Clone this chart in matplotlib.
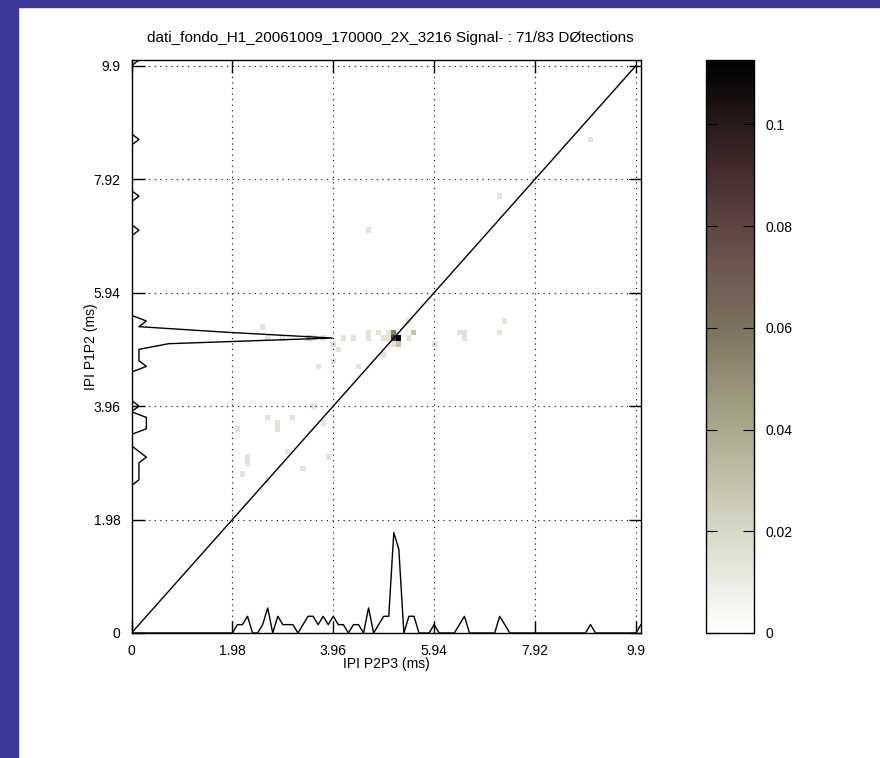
import numpy as np
import matplotlib
matplotlib.use("Agg")
import matplotlib.pyplot as plt
from matplotlib.colors import LinearSegmentedColormap
from matplotlib.patches import Rectangle

plt.rcParams['font.family'] = ['Liberation Sans', 'DejaVu Sans']

# --- data -------------------------------------------------------------
bin_width = 0.099          # ms per bin
n_detections = 71
hist_scale = 0.146         # plot units per detection in the marginal curves

# 2D histogram cells: (P2P3 bin, P1P2 bin, count)
cell_x = [21, 22, 23, 23, 26, 27, 27, 27, 29, 29, 30, 31, 32, 34, 35, 36, 36, 37, 38, 38,
          39, 40, 40, 41, 42, 44, 45, 47, 47, 47, 49, 50, 50, 51, 51, 52, 52, 52, 53, 53,
          55, 55, 56, 60, 65, 66, 66, 73, 73, 74, 91, 101]
cell_y = [36, 28, 31, 30, 54, 38, 27, 52, 37, 36, 52, 32, 38, 29, 52, 40, 52, 47, 37, 52,
          31, 51, 48, 50, 52, 52, 47, 53, 52, 71, 53, 52, 49, 52, 53, 53, 51, 52, 52, 51,
          55, 52, 53, 51, 53, 52, 53, 77, 53, 55, 87, 101]
cell_n = [1, 1, 1, 1, 1, 1, 1, 1, 1, 1, 1, 1, 1, 1, 2, 1, 1, 1, 1, 1,
          1, 1, 1, 1, 1, 1, 1, 1, 1, 1, 1, 1, 1, 1, 1, 4, 1, 6, 8, 2,
          1, 1, 2, 1, 1, 1, 1, 1, 1, 1, 1, 1]

# marginal counts along P2P3 (bottom curve)
px_bins = [21, 22, 23, 26, 27, 29, 30, 31, 32, 34, 35, 36, 37, 38, 39, 40, 41, 42, 44, 45,
           47, 49, 50, 51, 52, 53, 55, 56, 60, 65, 66, 73, 74, 91, 101]
px_counts = [1, 1, 2, 1, 3, 2, 1, 1, 1, 1, 2, 2, 1, 2, 1, 2, 1, 1, 1, 1,
             3, 1, 2, 2, 12, 10, 2, 2, 1, 1, 2, 2, 1, 1, 1]

# marginal counts along P1P2 (left curve)
py_bins = [27, 28, 29, 30, 31, 32, 36, 37, 38, 40, 47, 48, 49, 50, 51, 52, 53, 54, 55,
           71, 77, 87, 101]
py_counts = [1, 1, 1, 1, 2, 1, 2, 2, 2, 1, 2, 1, 1, 1, 5, 27, 13, 1, 2,
             1, 1, 1, 1]

tick_vals = [0, 1.98, 3.96, 5.94, 7.92, 9.9]
tick_labels = ['0', '1.98', '3.96', '5.94', '7.92', '9.9']
cbar_ticks = [0, 0.02, 0.04, 0.06, 0.08, 0.1]
cbar_labels = ['0', '0.02', '0.04', '0.06', '0.08', '0.1']

title = 'dati_fondo_H1_20061009_170000_2X_3216 Signal- : 71/83 D\u00d8tections'

# --- build arrays -------------------------------------------------------
nb = 102
grid = np.zeros((nb, nb))
for ix, iy, n in zip(cell_x, cell_y, cell_n):
    grid[iy, ix] += n / n_detections
grid = np.ma.masked_equal(grid, 0)
edges = (np.arange(nb + 1) - 0.5) * bin_width

hx = np.zeros(nb)
hx[px_bins] = px_counts
hy = np.zeros(nb)
hy[py_bins] = py_counts
centers = np.arange(nb) * bin_width

cmap = LinearSegmentedColormap.from_list('ipi', [
    (0.0, '#ffffff'), (0.177, '#d8d8c8'), (0.354, '#aaaa8c'), (0.53, '#7d735f'),
    (0.71, '#5f4644'), (0.885, '#2a1a1a'), (1.0, '#000000')])
vmax = 8 / n_detections

# --- figure -------------------------------------------------------------
fig = plt.figure(figsize=(8.8, 7.58), dpi=100)
fig.patches.append(Rectangle((0, 0), 18 / 880, 1, transform=fig.transFigure,
                             color='#3b3896', zorder=-10))
fig.patches.append(Rectangle((0, 1 - 7 / 758), 1, 7 / 758, transform=fig.transFigure,
                             color='#3b3896', zorder=-10))

ax = fig.add_axes([131.5 / 880, 1 - 633 / 758, 509.5 / 880, 573 / 758])
mesh = ax.pcolormesh(edges, edges, grid, cmap=cmap, vmin=0, vmax=vmax, zorder=1)

ax.plot([0, 9.9], [0, 9.9], color='black', lw=1, zorder=3)
ax.plot(centers, hx * hist_scale, color='black', lw=1, zorder=3)
ax.plot(hy * hist_scale, centers, color='black', lw=1, zorder=3)

ax.set_xlim(0, 10)
ax.set_ylim(0, 10)
ax.set_xticks(tick_vals)
ax.set_xticklabels(tick_labels)
ax.set_yticks(tick_vals)
ax.set_yticklabels(tick_labels)
ax.tick_params(direction='in', length=9, width=1, top=True, right=True,
               labelsize=10, pad=8)
ax.grid(True, color='black', linestyle=(0, (1, 4)), lw=0.8)
ax.set_axisbelow(False)
for s in ax.spines.values():
    s.set_linewidth(1)
ax.set_xlabel('IPI P2P3 (ms)', fontsize=10, labelpad=-1)
ax.set_ylabel('IPI P1P2 (ms)', fontsize=10, labelpad=-3)

fig.text(390 / 880, 1 - 38 / 758, title, ha='center', va='center', fontsize=11)

cax = fig.add_axes([706 / 880, 1 - 633 / 758, 48 / 880, 573 / 758])
cb = fig.colorbar(mesh, cax=cax)
cb.set_ticks(cbar_ticks)
cb.set_ticklabels(cbar_labels)
cax.tick_params(direction='in', length=8, labelsize=10, pad=8, left=True)
cb.outline.set_linewidth(1)

fig.savefig('out.png', dpi=100)
